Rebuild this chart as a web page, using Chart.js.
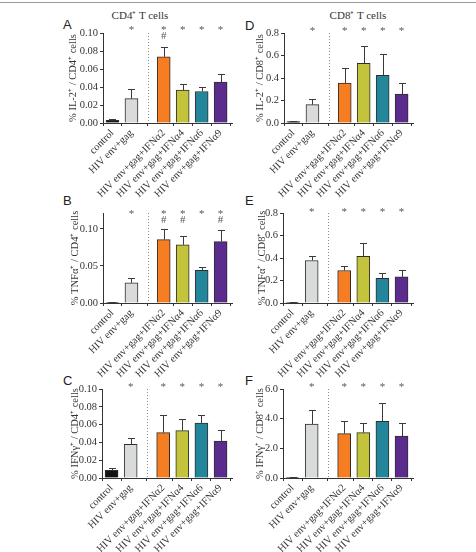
<!DOCTYPE html>
<html><head><meta charset="utf-8">
<script src="https://cdn.jsdelivr.net/npm/chart.js@4.4.1/dist/chart.umd.min.js"></script>
<style>
html,body{margin:0;padding:0;background:#fff;}
#wrap{position:relative;width:476px;height:552px;overflow:hidden;background:#fff;}
canvas{position:absolute;}
.lbl{position:absolute;font:13px "Liberation Sans",Arial,sans-serif;color:#222;line-height:1;}
.ttl{position:absolute;font:11px "Liberation Serif","Times New Roman",serif;color:#333;white-space:nowrap;transform:translateX(-50%);line-height:1;}
#topline{position:absolute;left:0;top:2px;width:476px;height:1px;background:#9a9a9a;}
</style></head><body>
<div id="wrap">
<div id="topline"></div>
<div class="ttl" style="left:140px;top:10px">CD4⁺ T cells</div>
<div class="ttl" style="left:358px;top:10px">CD8⁺ T cells</div>
<div class="lbl" style="left:63px;top:18px">A</div>
<div class="lbl" style="left:63px;top:194px">B</div>
<div class="lbl" style="left:63px;top:374px">C</div>
<div class="lbl" style="left:245px;top:19px">D</div>
<div class="lbl" style="left:245px;top:194px">E</div>
<div class="lbl" style="left:245px;top:374px">F</div>
<canvas id="pA"></canvas><canvas id="pB"></canvas><canvas id="pC"></canvas>
<canvas id="pD"></canvas><canvas id="pE"></canvas><canvas id="pF"></canvas>
</div>
<script>
// ---- data ----
const categories = ['control','HIV env+gag','HIV env+gag+IFNα2','HIV env+gag+IFNα4','HIV env+gag+IFNα6','HIV env+gag+IFNα9'];
const categoryPositions = [0, 1, 2.7, 3.7, 4.7, 5.7];
const dividerPosition = 1.85;
const barColors = ['#141414','#d9dbdb','#f77d22','#c4c43c','#23869b','#5b2b8e'];

const il2CD4 = [0.003, 0.027, 0.0735, 0.0365, 0.035, 0.0455];
const il2CD4Sem = [0.0015, 0.011, 0.011, 0.0065, 0.0055, 0.0095];
const tnfCD4 = [0.0005, 0.0272, 0.0857, 0.0786, 0.0442, 0.083];
const tnfCD4Sem = [0.0002, 0.0072, 0.0143, 0.0124, 0.004, 0.015];
const ifngCD4 = [0.0086, 0.0378, 0.051, 0.0532, 0.0618, 0.0416];
const ifngCD4Sem = [0.003, 0.0068, 0.0194, 0.0128, 0.009, 0.0124];
const il2CD8 = [0.012, 0.164, 0.355, 0.531, 0.424, 0.257];
const il2CD8Sem = [0.006, 0.048, 0.132, 0.153, 0.191, 0.095];
const tnfCD8 = [0.004, 0.378, 0.289, 0.414, 0.22, 0.232];
const tnfCD8Sem = [0.001, 0.042, 0.041, 0.122, 0.045, 0.057];
const ifngCD8 = [0.03, 3.64, 2.99, 3.06, 3.82, 2.83];
const ifngCD8Sem = [0.01, 0.92, 0.85, 0.67, 1.26, 0.88];

const ticksCD4Fine = [0, 0.02, 0.04, 0.06, 0.08, 0.10];
const ticksCD4Coarse = [0, 0.05, 0.10];
const ticksCD8Frac = [0, 0.2, 0.4, 0.6, 0.8];
const ticksCD8Pct = [0, 2, 4, 6];

const starsAll = ['', '*', '*', '*', '*', '*'];
const hashNone = ['', '', '', '', '', ''];
const hashA = ['', '', '#', '', '', ''];
const hashB = ['', '', '#', '#', '', '#'];

// ---- drawing ----
const SERIF = '"Liberation Serif","Times New Roman",serif';
const decorPlugin = {
  id: 'decor',
  afterDatasetsDraw(chart, args, o) {
    const {ctx, chartArea: {top, bottom}} = chart;
    const xs = chart.scales.x, ys = chart.scales.y;
    ctx.save();
    const dx = Math.round(xs.getPixelForValue(dividerPosition)) + 0.5;
    ctx.strokeStyle = '#8a8a8a'; ctx.lineWidth = 1; ctx.setLineDash([1, 2]);
    ctx.beginPath(); ctx.moveTo(dx, top); ctx.lineTo(dx, bottom); ctx.stroke();
    ctx.setLineDash([]);
    const meta = chart.getDatasetMeta(0);
    ctx.strokeStyle = '#3a3a3a';
    meta.data.forEach((bar, i) => {
      const yTop = Math.round(ys.getPixelForValue(o.values[i] + o.sem[i])) + 0.5;
      const x = Math.round(bar.x) + 0.5;
      ctx.beginPath();
      ctx.moveTo(x, bar.y); ctx.lineTo(x, yTop);
      ctx.moveTo(x - 3.5, yTop); ctx.lineTo(x + 3.5, yTop);
      ctx.stroke();
    });
    ctx.fillStyle = '#555';
    ctx.font = '11px ' + SERIF;
    ctx.textAlign = 'center'; ctx.textBaseline = 'middle';
    categoryPositions.forEach((p, i) => {
      const x = xs.getPixelForValue(p);
      if (o.stars[i]) ctx.fillText(o.stars[i], x, top + o.starDy + 2);
      if (o.hash[i]) ctx.fillText(o.hash[i], x, top + o.hashDy);
    });
    ctx.restore();
  }
};

function makePanel(id, cfg) {
  const canvas = document.getElementById(id);
  const padTop = 26, padRight = 10, below = 95;
  const cLeft = cfg.titleX - 6;
  const cTop = cfg.top - padTop;
  const w = cfg.right - cLeft + padRight;
  const h = cfg.bottom - cTop + below;
  canvas.style.left = cLeft + 'px'; canvas.style.top = cTop + 'px';
  canvas.width = w; canvas.height = h;
  canvas.style.width = w + 'px'; canvas.style.height = h + 'px';
  const gridOpts = {display: true, drawOnChartArea: false, drawTicks: true, tickLength: 3, color: '#333', lineWidth: 1};
  const borderOpts = {display: true, color: '#333', width: 1};
  new Chart(canvas, {
    type: 'bar',
    data: {datasets: [{
      data: cfg.values.map((v, i) => ({x: categoryPositions[i], y: v})),
      backgroundColor: barColors, borderColor: '#2e2e2e', borderWidth: 1, barThickness: 13
    }]},
    options: {
      responsive: false, animation: false, devicePixelRatio: 1,
      layout: {padding: {left: 0, top: padTop, right: padRight, bottom: 0}},
      plugins: {legend: {display: false}, tooltip: {enabled: false},
        decor: {values: cfg.values, sem: cfg.sem, stars: starsAll, hash: cfg.hash, starDy: cfg.starDy, hashDy: cfg.hashDy}},
      scales: {
        x: {type: 'linear', min: -0.5, max: 6.3, offset: false,
          afterBuildTicks: s => { s.ticks = categoryPositions.map(v => ({value: v})); },
          afterFit: s => { s.height = below; },
          grid: gridOpts, border: borderOpts,
          ticks: {autoSkip: false, minRotation: 45, maxRotation: 45, padding: 1, color: '#333',
            font: {family: SERIF, size: 10.5}, callback: (v, i) => categories[i]}
        },
        y: {min: 0, max: cfg.max,
          afterBuildTicks: s => { s.ticks = cfg.ticks.map(v => ({value: v})); },
          afterFit: s => { s.width = cfg.left - cLeft; },
          grid: gridOpts, border: borderOpts,
          ticks: {padding: 2, color: '#333', font: {family: SERIF, size: 10.5},
            callback: v => Number(v).toFixed(cfg.decimals)},
          title: {display: true, text: cfg.yTitle, padding: 0, color: '#333', font: {family: SERIF, size: 10.5}}
        }
      }
    },
    plugins: [decorPlugin]
  });
}

makePanel('pA', {values: il2CD4, sem: il2CD4Sem, ticks: ticksCD4Fine, max: 0.10, decimals: 2, yTitle: '% IL-2⁺ / CD4⁺ cells',
  left: 103, right: 232, top: 33, bottom: 123, titleX: 73, hash: hashA, starDy: -5, hashDy: 3});
makePanel('pB', {values: tnfCD4, sem: tnfCD4Sem, ticks: ticksCD4Coarse, max: 0.1216, decimals: 2, yTitle: '% TNFα⁺ / CD4⁺ cells',
  left: 103, right: 232, top: 213, bottom: 303, titleX: 75, hash: hashB, starDy: -1, hashDy: 7});
makePanel('pC', {values: ifngCD4, sem: ifngCD4Sem, ticks: ticksCD4Fine, max: 0.10, decimals: 2, yTitle: '% IFNγ⁺ / CD4⁺ cells',
  left: 102, right: 232, top: 389, bottom: 478, titleX: 75, hash: hashNone, starDy: -4, hashDy: 4});
makePanel('pD', {values: il2CD8, sem: il2CD8Sem, ticks: ticksCD8Frac, max: 0.8, decimals: 1, yTitle: '% IL-2⁺ / CD8⁺ cells',
  left: 284, right: 413, top: 33, bottom: 123, titleX: 260, hash: hashNone, starDy: -4, hashDy: 4});
makePanel('pE', {values: tnfCD8, sem: tnfCD8Sem, ticks: ticksCD8Frac, max: 0.8, decimals: 1, yTitle: '% TNFα⁺ / CD8⁺ cells',
  left: 283, right: 413, top: 213, bottom: 303, titleX: 262, hash: hashNone, starDy: -3, hashDy: 4});
makePanel('pF', {values: ifngCD8, sem: ifngCD8Sem, ticks: ticksCD8Pct, max: 6.0, decimals: 1, yTitle: '% IFNγ⁺ / CD8⁺ cells',
  left: 283, right: 413, top: 389, bottom: 478, titleX: 260, hash: hashNone, starDy: -4, hashDy: 4});
</script>
</body></html>
